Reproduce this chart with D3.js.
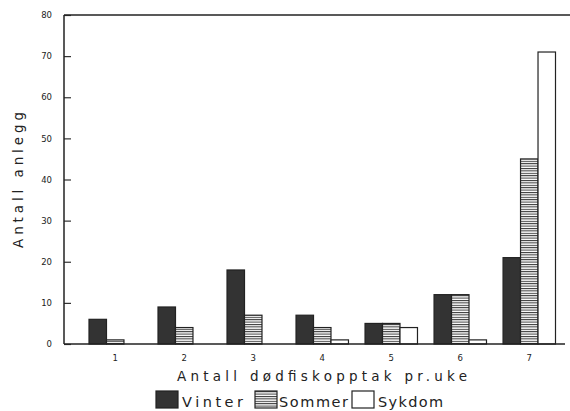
<!DOCTYPE html>
<html>
<head>
<meta charset="utf-8">
<script src="https://cdn.jsdelivr.net/npm/d3@7"></script>
<style>
  body { margin: 0; background: #fff; }
  text { font-family: "DejaVu Sans", sans-serif; fill: #222; }
</style>
</head>
<body>
<div id="chart"></div>
<script>
var svgWidth = 570;
var svgHeight = 411;

// data
var categories = ["1", "2", "3", "4", "5", "6", "7"];
var series = ["Vinter", "Sommer", "Sykdom"];
var vinter = [6, 9, 18, 7, 5, 12, 21];
var sommer = [1, 4, 7, 4, 5, 12, 45];
var sykdom = [0, 0, 0, 1, 4, 1, 71];
var yTicks = [0, 10, 20, 30, 40, 50, 60, 70, 80];

var values = [vinter, sommer, sykdom];
var rows = categories.map(function(c, i) {
  return series.map(function(s, j) { return {cat: c, key: s, value: values[j][i]}; });
});

var svg = d3.select("#chart")
  .append("svg")
  .attr("width", svgWidth)
  .attr("height", svgHeight);

var defs = svg.append("defs");
var hatch = defs.append("pattern")
  .attr("id", "hatch")
  .attr("patternUnits", "userSpaceOnUse")
  .attr("width", 6)
  .attr("height", 2.4);
hatch.append("rect").attr("width", 6).attr("height", 2.4).attr("fill", "#fff");
hatch.append("rect").attr("y", 0).attr("width", 6).attr("height", 1).attr("fill", "#333");

var fills = {Vinter: "#333", Sommer: "url(#hatch)", Sykdom: "#fff"};

var plotLeft = 64, plotTop = 15, plotBottom = 344;

var x0 = d3.scaleBand()
  .domain(categories)
  .range([89, 555.5])
  .paddingInner(0.24)
  .paddingOuter(0);

var x1 = d3.scaleBand()
  .domain(series)
  .range([0, x0.bandwidth()]);

var y = d3.scaleLinear()
  .domain([0, 80])
  .range([plotBottom, plotTop]);

// bars
var groups = svg.selectAll(".grp")
  .data(rows)
  .enter()
  .append("g")
  .attr("class", "grp")
  .attr("transform", d => `translate(${x0(d[0].cat)},0)`);

groups.selectAll("rect")
  .data(d => d.filter(v => v.value > 0))
  .enter()
  .append("rect")
  .attr("x", d => x1(d.key))
  .attr("y", d => y(d.value))
  .attr("width", x1.bandwidth())
  .attr("height", d => y(0) - y(d.value))
  .attr("fill", d => fills[d.key])
  .attr("stroke", "#222")
  .attr("stroke-width", 1.2);

// y axis
var leftAxis = d3.axisLeft(y).tickValues(yTicks).tickSize(-7).tickPadding(12);
var gy = svg.append("g")
  .attr("transform", `translate(${plotLeft},0)`)
  .call(leftAxis);
gy.select(".domain").remove();
gy.selectAll("line").attr("stroke", "#333").attr("stroke-width", 1.2);
gy.selectAll("text").attr("font-size", 8.5).attr("fill", "#222").attr("font-family", "DejaVu Sans, sans-serif");

// x axis labels
var bottomAxis = d3.axisBottom(x0).tickSize(0).tickPadding(11);
var gx = svg.append("g")
  .attr("transform", `translate(0,${plotBottom})`)
  .call(bottomAxis);
gx.select(".domain").remove();
gx.selectAll("text").attr("font-size", 8.5).attr("fill", "#222").attr("font-family", "DejaVu Sans, sans-serif");

// frame lines
svg.append("line").attr("x1", plotLeft).attr("x2", plotLeft).attr("y1", plotTop).attr("y2", plotBottom)
  .attr("stroke", "#222").attr("stroke-width", 1.5);
svg.append("line").attr("x1", plotLeft).attr("x2", 570).attr("y1", plotTop).attr("y2", plotTop)
  .attr("stroke", "#222").attr("stroke-width", 1.5);
svg.append("line").attr("x1", plotLeft).attr("x2", 565).attr("y1", plotBottom).attr("y2", plotBottom)
  .attr("stroke", "#222").attr("stroke-width", 1.5);

// axis titles
svg.append("text")
  .attr("x", 177)
  .attr("y", 381)
  .attr("font-size", 13.5)
  .attr("textLength", 290)
  .attr("lengthAdjust", "spacing")
  .text("Antall dødfiskopptak pr.uke");

svg.append("text")
  .attr("transform", "rotate(-90)")
  .attr("x", -248)
  .attr("y", 23)
  .attr("font-size", 13.5)
  .attr("textLength", 136)
  .attr("lengthAdjust", "spacing")
  .text("Antall anlegg");

// legend
var legendItems = [
  {key: "Vinter", bx: 156, tx: 182, tl: 61},
  {key: "Sommer", bx: 255, tx: 279, tl: 69},
  {key: "Sykdom", bx: 352, tx: 378, tl: 65}
];
var legend = svg.append("g");
legend.selectAll("rect")
  .data(legendItems)
  .enter()
  .append("rect")
  .attr("x", d => d.bx)
  .attr("y", 391)
  .attr("width", 22)
  .attr("height", 17)
  .attr("fill", d => fills[d.key])
  .attr("stroke", "#222")
  .attr("stroke-width", 1.2);
legend.selectAll("text")
  .data(legendItems)
  .enter()
  .append("text")
  .attr("x", d => d.tx)
  .attr("y", 407)
  .attr("font-size", 14.5)
  .attr("textLength", d => d.tl)
  .attr("lengthAdjust", "spacing")
  .text(d => d.key);
</script>
</body>
</html>
